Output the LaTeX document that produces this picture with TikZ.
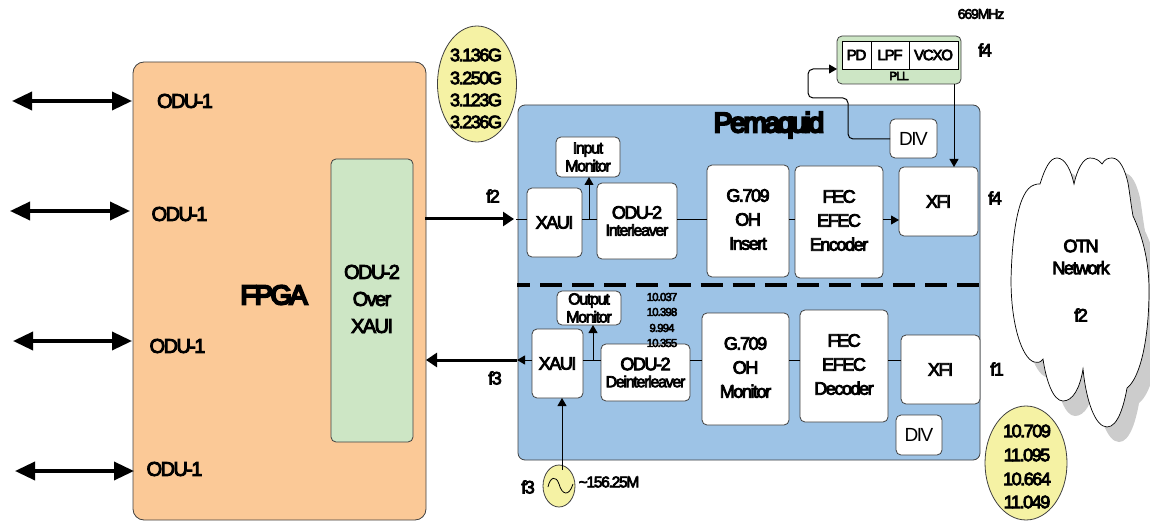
\documentclass[tikz,border=0pt]{standalone}
\usepackage{fontspec}
\setmainfont[LetterSpace=-8,FakeBold=4.5]{Liberation Sans}
\newfontfamily\lightf[LetterSpace=-8]{Liberation Sans}
\newfontfamily\heavyf[LetterSpace=-8,FakeBold=8]{Liberation Sans}
\usetikzlibrary{arrows.meta,shapes.geometric}
\definecolor{fpga}{HTML}{FBC997}
\definecolor{grn}{HTML}{CDE6C5}
\definecolor{blu}{HTML}{9DC3E6}
\definecolor{yel}{HTML}{F5F2A4}
\definecolor{shd}{HTML}{CCCCCC}
\definecolor{edge}{HTML}{404040}
\newcommand{\fs}[1]{\fontsize{#1}{#1}\selectfont}
\tikzset{
 x=1pt,y=-1pt,
 px/.style={inner sep=0pt,outer sep=0pt},
 wbox/.style={px,draw=edge,line width=.8pt,fill=white,rounded corners=5pt,align=center},
 lbl/.style={px,align=center,font=\fs{18}},
 wire/.style={black,line width=1pt},
 arr/.style={wire,-{Triangle[length=8pt,width=9pt]}},
 big/.style={black,line width=3pt,-{Triangle[length=11pt,width=14pt]}},
 both/.style={black,line width=3.5pt,{Triangle[length=20pt,width=18pt]}-{Triangle[length=20pt,width=18pt]}},
 oval/.style={px,ellipse,draw=edge,line width=.8pt,fill=yel},
 cell/.style={px,draw=black,line width=.6pt,fill=white,minimum height=28,font=\fs{15}},
}
\newcommand{\rbox}[6][]{\node[wbox,#1,minimum width=#4-#3,minimum height=#6-#5] (#2) at ({(#3+#4)/2},{(#5+#6)/2}) {};}
\begin{document}
\begin{tikzpicture}
\useasboundingbox (0,0) rectangle (1150,521);
% FPGA
\node[wbox,fill=fpga,rounded corners=11pt,minimum width=293,minimum height=458] (fpga) at (279.5,291) {};
\node[wbox,fill=grn,minimum width=82,minimum height=283] (over) at (372,300.5) {};
\node[lbl,font=\fs{20}] (overt) at (372,299) {ODU-2\\[7pt]Over\\[7pt]XAUI};
\node[lbl,font=\fs{27}\heavyf] (fpgat) at (274,295) {FPGA};
% external arrows
\coordinate (e1) at (12,101); \coordinate (e1b) at (132,101);
\coordinate (e2) at (10,211); \coordinate (e2b) at (130,211);
\coordinate (e3) at (13,341); \coordinate (e3b) at (132,341);
\coordinate (e4) at (15,471); \coordinate (e4b) at (134,471);
\draw[both] (e1)--(e1b); \draw[both] (e2)--(e2b); \draw[both] (e3)--(e3b); \draw[both] (e4)--(e4b);
\node[lbl,font=\fs{20}] (o1) at (185,101) {ODU-1};
\node[lbl,font=\fs{20}] (o2) at (179.5,214) {ODU-1};
\node[lbl,font=\fs{20}] (o3) at (177.5,346) {ODU-1};
\node[lbl,font=\fs{20}] (o4) at (174.5,469) {ODU-1};
% yellow ellipses
\node[oval,minimum width=79,minimum height=116] (y1) at (477,84) {};
\foreach \t/\yy/\n in {3.136G/55/a,3.250G/78/b,3.123G/100/c,3.236G/122/d}{\node[lbl] (yt\n) at (476,\yy) {\t};}
\node[oval,minimum width=82,minimum height=114] (y2) at (1026,463) {};
\foreach \t/\yy/\n in {10.709/431/a,11.095/455/b,10.664/479/c,11.049/502/d}{\node[lbl] (zt\n) at (1027,\yy) {\t};}
% Pemaquid
\node[wbox,fill=blu,rounded corners=7pt,minimum width=462,minimum height=355] (pem) at (749,282.5) {};
\node[lbl,font=\fs{28}\heavyf] (pemt) at (769,125) {Pemaquid};
% blocks
\rbox{inm}{556}{620}{137}{177}
\node[lbl,font=\fs{16}] at (inm) {Input\\[2pt]Monitor};
\rbox{xa1}{527}{582}{188}{257}
\node[lbl] at (xa1) {XAUI};
\rbox{od1}{597}{677}{183}{259}
\node[lbl] at (od1) {ODU-2\\[-1pt]{\fs{16}Interleaver}};
\rbox{gi}{707}{789}{165}{277}
\node[lbl,yshift=1.5pt] at (gi) {G.709\\[6pt]OH\\[6pt]Insert};
\rbox{fe}{795}{883}{166}{278}
\node[lbl,yshift=1.5pt] at (fe) {FEC\\[6pt]EFEC\\[6pt]Encoder};
\rbox{xf1}{899}{978}{167}{236}
\node[lbl] at (xf1) {XFI};
\rbox{dv1}{890}{937}{119}{158}
\node[px,font=\fs{19}\lightf] at (dv1) {DIV};
\rbox{onm}{557}{621}{291}{325}
\node[lbl,font=\fs{16}] at (onm) {Output\\[2pt]Monitor};
\rbox{xa2}{532}{583}{329}{398}
\node[lbl] at (xa2) {XAUI};
\rbox{od2}{601}{690}{344}{401}
\node[lbl] at (od2) {ODU-2\\[-1pt]{\fs{16}Deinterleaver}};
\rbox{gm}{702}{789}{313}{425}
\node[lbl,yshift=1.5pt] at (gm) {G.709\\[6pt]OH\\[6pt]Monitor};
\rbox{fd}{800}{888}{310}{422}
\node[lbl,yshift=1.5pt] at (fd) {FEC\\[6pt]EFEC\\[6pt]Decoder};
\rbox{xf2}{901}{980}{335}{404}
\node[lbl] at (xf2) {XFI};
\rbox{dv2}{896}{942}{415}{455}
\node[px,font=\fs{19}\lightf] at (dv2) {DIV};
% PLL
\node[wbox,fill=grn,minimum width=124,minimum height=48] (pll) at (899,60) {};
\node[cell,minimum width=29] (pd) at (856.5,55) {PD};
\node[cell,minimum width=38] (lpf) at (890,55) {LPF};
\node[cell,minimum width=49] (vcxo) at (933.5,55) {VCXO};
\node[lbl,font=\fs{12}] (pllt) at (899,76) {PLL};
% dashed
\coordinate (da) at (517,285); \coordinate (db) at (980,285);
\draw[black,line width=3.5pt,dash pattern=on 22pt off 10.1pt,dash phase=9pt] (da)--(db);
% wires top
\coordinate (f2a) at (425,219); \coordinate (f2b) at (514,219);
\draw[big] (f2a)--(f2b);
\coordinate (w1) at (516,220);
\draw[wire] (w1)--(xa1.west|-w1);
\draw[wire] (xa1.east|-w1)--(od1.west|-w1);
\coordinate (j1) at (589,220);
\draw[arr] (j1)--(j1|-inm.south);
\draw[wire] (od1.east|-w1)--(gi.west|-w1);
\draw[wire] (gi.east|-w1)--(fe.west|-w1);
\draw[arr] (fe.east|-w1)--(xf1.west|-w1);
% wires bottom
\coordinate (w2) at (517,360);
\draw[big] (w2)--(fpga.east|-w2);
\draw[arr] (xa2.west|-w2)--(w2);
\draw[wire] (od2.west|-w2)--(xa2.east|-w2);
\coordinate (j2) at (593,360);
\draw[arr] (j2)--(j2|-onm.south);
\draw[wire] (gm.west|-w2)--(od2.east|-w2);
\draw[wire] (fd.west|-w2)--(gm.east|-w2);
\draw[wire] (xf2.west|-w2)--(fd.east|-w2);
% oscillator
\node[oval,minimum width=32,minimum height=42] (osc) at (559,486) {};
\draw[black,line width=.8pt] (548,487) .. controls (550,477) and (556,475) .. (559,484) .. controls (562,495) and (569,497) .. (573,484);
\coordinate (oo) at (562,470);
\draw[arr] (oo)--(oo|-xa2.south);
% PLL wires
\coordinate (vv) at (954,84);
\draw[arr] (vv)--(vv|-xf1.north);
\coordinate (d1) at (848,139); \coordinate (d2) at (848,98); \coordinate (d3) at (808,98); \coordinate (d4) at (808,69);
\draw[arr,rounded corners=5pt] (dv1.west|-d1)--(d1)--(d2)--(d3)--(d4)--(pll.west|-d4);
% cloud
\def\cloudp{(1011,280) .. controls (1012,235) and (1018,190) .. (1034,185) .. controls (1036,184) and (1038,184) .. (1040,184)
 .. controls (1045,168) and (1050,158) .. (1057,158) .. controls (1065,158) and (1071,170) .. (1074,184)
 .. controls (1077,170) and (1083,158) .. (1090,158) .. controls (1095,158) and (1099,160) .. (1102,164)
 .. controls (1105,159) and (1108,158) .. (1112,158) .. controls (1120,158) and (1125,170) .. (1128,183)
 .. controls (1130,195) and (1131,205) .. (1133,216)
 .. controls (1142,235) and (1149,260) .. (1149,290) .. controls (1149,340) and (1140,378) .. (1127,388)
 .. controls (1124,405) and (1118,427) .. (1107,427) .. controls (1095,427) and (1086,400) .. (1083,369)
 .. controls (1080,388) and (1073,401) .. (1063,401) .. controls (1053,401) and (1046,380) .. (1043,359)
 .. controls (1040,363) and (1037,363) .. (1034,362) .. controls (1022,358) and (1011,325) .. (1011,280) -- cycle}
\begin{scope}[shift={(12,15)}]
\fill[shd] \cloudp;
\end{scope}
\filldraw[fill=white,draw=black,line width=.7pt] \cloudp;
% text
\node[lbl,font=\fs{14}] (m1) at (981,14) {669MHz};
\node[lbl] (f4a) at (985,50) {f4};
\node[lbl] (f2t) at (493,196) {f2};
\node[lbl] (f3t) at (495,378) {f3};
\node[lbl] (f4b) at (995,198) {f4};
\node[lbl] (f1t) at (997,369) {f1};
\node[lbl] (otn) at (1081,257) {OTN\\[4pt]Network};
\node[lbl] (f2c) at (1081,315) {f2};
\foreach \t/\yy/\n in {10.037/297/a,10.398/312/b,9.994/328/c,10.355/343/d}{\node[lbl,font=\fs{11.5}] (q\n) at (662,\yy) {\t};}
\node[lbl] (f3b) at (528,487) {f3};
\node[lbl,font=\fs{15.5}] (mm) at (609,482) {{\char"7E}156.25M};
\end{tikzpicture}
\end{document}
